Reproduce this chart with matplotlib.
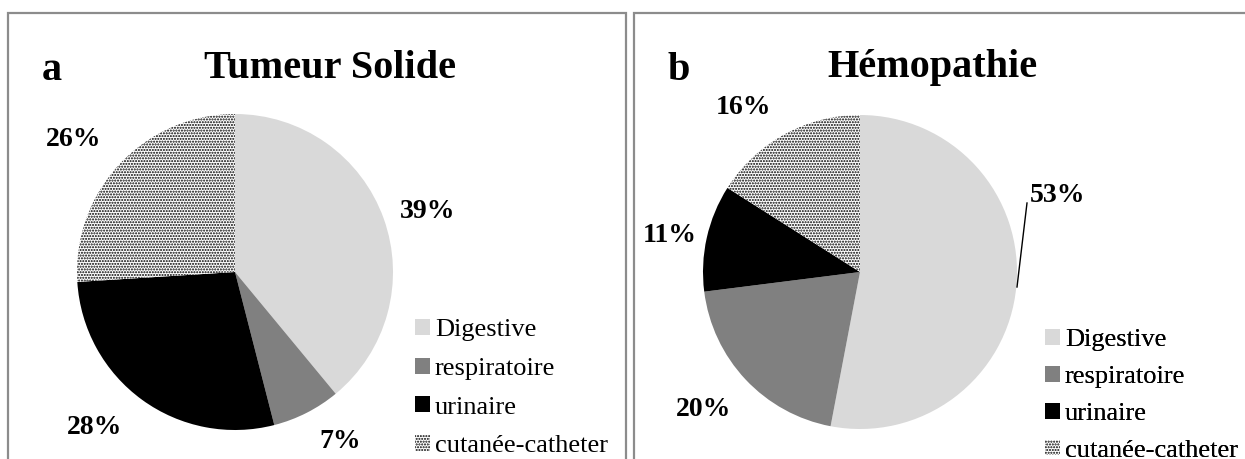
import matplotlib
matplotlib.use("Agg")
import matplotlib.pyplot as plt
from matplotlib.patches import Rectangle

plt.rcParams['font.family'] = ['Liberation Serif', 'DejaVu Serif']
plt.rcParams['hatch.linewidth'] = 1.0

categories = ["Digestive", "respiratoire", "urinaire", "cutanée-catheter"]
solide = [39, 7, 28, 26]
hemo = [53, 20, 11, 16]
titles = ["Tumeur Solide", "Hémopathie"]
letters = ["a", "b"]

colors = ["#d9d9d9", "#808080", "#000000", "white"]

W, H = 1245, 459
fig = plt.figure(figsize=(W / 100, H / 100), dpi=100)
ax = fig.add_axes([0, 0, 1, 1])
ax.set_xlim(0, W)
ax.set_ylim(0, H)
ax.axis("off")

# panel layout in pixels (y from top)
panels = [
    dict(box=(8, 13, 618), center=(235, 272), r=158, title=(330, 68), letter=(52, 70),
         leg=(402, 328), spacing=0.62,
         labels=[(428, 211), (340, 442), (95, 428), (74, 139)]),
    dict(box=(634, 13, 700), center=(860, 272), r=157, title=(932, 68), letter=(679, 70),
         leg=(1032, 338), spacing=0.55,
         labels=[(1058, 195), (704, 409), (670, 235), (743, 108)]),
]

for vals, title, letter, p in zip([solide, hemo], titles, letters, panels):
    x0, y0, w = p["box"]
    ax.add_patch(Rectangle((x0, -10), w, H - y0 + 10, fill=False,
                           edgecolor="#8c8c8c", linewidth=1.6))
    cx, cy = p["center"]
    wedges, _ = ax.pie(vals, startangle=90, counterclock=False,
                       center=(cx, H - cy), radius=p["r"], colors=colors,
                       wedgeprops=dict(linewidth=0))
    wedges[3].set_hatch("......")
    wedges[3].set_edgecolor("black")
    wedges[3].set_linewidth(0)
    for v, (lx, ly) in zip(vals, p["labels"]):
        ax.text(lx, H - ly, f"{v}%", ha="center", va="center",
                fontsize=20, fontweight="bold")
    ax.text(p["title"][0], H - p["title"][1], title, ha="center", va="center",
            fontsize=29, fontweight="bold")
    ax.text(p["letter"][0], H - p["letter"][1], letter, ha="center", va="center",
            fontsize=29, fontweight="bold")
    lx, ly = p["leg"]
    ax.legend(wedges, categories, loc="upper left",
              bbox_to_anchor=(lx / W, 1 - (ly - 22) / H),
              frameon=False, fontsize=19, handlelength=0.55, handleheight=0.55,
              handletextpad=0.2, labelspacing=p["spacing"], borderpad=0)
    ax.add_artist(ax.get_legend())

# leader line for the 53% label
ax.plot([1017, 1027], [H - 287, H - 203], color="black", linewidth=1)

ax.set_xlim(0, W)
ax.set_ylim(0, H)
ax.set_aspect("auto")

fig.savefig("out.png", dpi=100)
